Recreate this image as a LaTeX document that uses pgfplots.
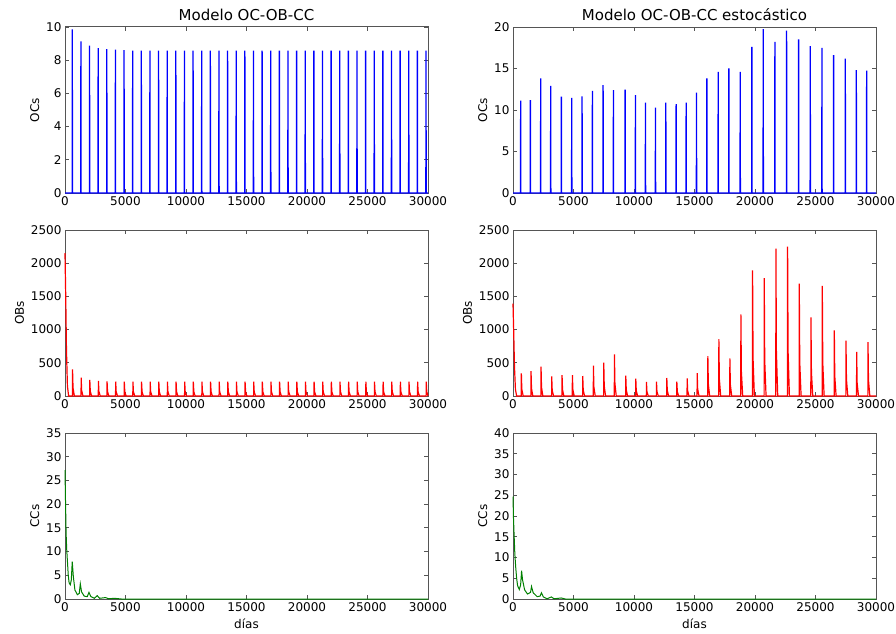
\documentclass[border=0pt]{standalone}
\usepackage{fontspec}
\setmainfont{DejaVu Sans}
\usepackage{pgfplots}
\pgfplotsset{compat=1.18}

\definecolor{frame}{HTML}{555555}
\definecolor{mblue}{rgb}{0,0,1}
\definecolor{mred}{rgb}{1,0,0}
\definecolor{mgreen}{rgb}{0,0.5,0}

\pgfplotsset{
  panel/.style={
    scale only axis, width=363pt, height=166pt,
    xmin=0, xmax=30000, xtick={0,5000,...,30000},
    scaled x ticks=false, scaled y ticks=false,
    /pgf/number format/set thousands separator={},
    /pgf/number format/assume math mode=true,
    tick label style={font=\fontsize{12}{14}\selectfont},
    label style={font=\fontsize{12}{14}\selectfont},
    title style={font=\fontsize{15}{18}\selectfont, yshift=-3pt},
    axis line style={draw=frame, line width=1pt},
    tick style={draw=frame, line width=0.8pt},
    major tick length=4pt,
    tick align=inside, tick pos=both,
    xticklabel pos=lower, yticklabel pos=left,
    clip=false,
  },
}

\begin{document}
\begin{tikzpicture}
\useasboundingbox (0,0) rectangle (896pt,633pt);

% ---------- left column: deterministic model ----------
\begin{axis}[panel, at={(65pt,440pt)}, anchor=south west,
  title={Modelo OC-OB-CC}, ylabel={OCs},
  ymin=0, ymax=10, ytick={0,2,...,10}]
\addplot[mblue, line width=1.3pt] coordinates {
(0,0)
(591,0)(603,9.86)(615,0)
(1304,0)(1316,9.14)(1328,0)
(2017,0)(2029,8.88)(2041,0)
(2730,0)(2742,8.73)(2754,0)
(3443,0)(3455,8.67)(3467,0)
(4156,0)(4168,8.63)(4180,0)
(4869,0)(4881,8.60)(4893,0)
(5582,0)(5594,8.58)(5606,0)
(6295,0)(6307,8.58)(6319,0)
(7008,0)(7020,8.58)(7032,0)
(7721,0)(7733,8.58)(7745,0)
(8434,0)(8446,8.58)(8458,0)
(9147,0)(9159,8.58)(9171,0)
(9860,0)(9872,8.58)(9884,0)
(10573,0)(10585,8.58)(10597,0)
(11286,0)(11298,8.58)(11310,0)
(11999,0)(12011,8.58)(12023,0)
(12712,0)(12724,8.58)(12736,0)
(13425,0)(13437,8.58)(13449,0)
(14138,0)(14150,8.58)(14162,0)
(14851,0)(14863,8.58)(14875,0)
(15564,0)(15576,8.58)(15588,0)
(16277,0)(16289,8.58)(16301,0)
(16990,0)(17002,8.58)(17014,0)
(17703,0)(17715,8.58)(17727,0)
(18416,0)(18428,8.58)(18440,0)
(19129,0)(19141,8.58)(19153,0)
(19842,0)(19854,8.58)(19866,0)
(20555,0)(20567,8.58)(20579,0)
(21268,0)(21280,8.58)(21292,0)
(21981,0)(21993,8.58)(22005,0)
(22694,0)(22706,8.58)(22718,0)
(23407,0)(23419,8.58)(23431,0)
(24120,0)(24132,8.58)(24144,0)
(24833,0)(24845,8.58)(24857,0)
(25546,0)(25558,8.58)(25570,0)
(26259,0)(26271,8.58)(26283,0)
(26972,0)(26984,8.58)(26996,0)
(27685,0)(27697,8.58)(27709,0)
(28398,0)(28410,8.58)(28422,0)
(29111,0)(29123,8.58)(29135,0)
(29824,0)(29836,8.58)(29848,0)
(30000,0)};
\end{axis}

\begin{axis}[panel, at={(65pt,237pt)}, anchor=south west,
  ylabel={OBs}, ymin=0, ymax=2500, ytick={0,500,...,2500}]
\addplot[mred, line width=1.2pt] coordinates {
(0,2150)(60,1500)(120,700)(200,150)(300,0)
(613,0)(623,402)(663,121)(773,0)
(1326,0)(1336,277)(1376,83)(1486,0)
(2039,0)(2049,241)(2089,72)(2199,0)
(2752,0)(2762,226)(2802,68)(2912,0)
(3465,0)(3475,221)(3515,66)(3625,0)
(4178,0)(4188,218)(4228,65)(4338,0)
(4891,0)(4901,216)(4941,65)(5051,0)
(5604,0)(5614,215)(5654,65)(5764,0)
(6317,0)(6327,215)(6367,65)(6477,0)
(7030,0)(7040,215)(7080,65)(7190,0)
(7743,0)(7753,215)(7793,65)(7903,0)
(8456,0)(8466,215)(8506,65)(8616,0)
(9169,0)(9179,215)(9219,65)(9329,0)
(9882,0)(9892,215)(9932,65)(10042,0)
(10595,0)(10605,215)(10645,65)(10755,0)
(11308,0)(11318,215)(11358,65)(11468,0)
(12021,0)(12031,215)(12071,65)(12181,0)
(12734,0)(12744,215)(12784,65)(12894,0)
(13447,0)(13457,215)(13497,65)(13607,0)
(14160,0)(14170,215)(14210,65)(14320,0)
(14873,0)(14883,215)(14923,65)(15033,0)
(15586,0)(15596,215)(15636,65)(15746,0)
(16299,0)(16309,215)(16349,65)(16459,0)
(17012,0)(17022,215)(17062,65)(17172,0)
(17725,0)(17735,215)(17775,65)(17885,0)
(18438,0)(18448,215)(18488,65)(18598,0)
(19151,0)(19161,215)(19201,65)(19311,0)
(19864,0)(19874,215)(19914,65)(20024,0)
(20577,0)(20587,215)(20627,65)(20737,0)
(21290,0)(21300,215)(21340,65)(21450,0)
(22003,0)(22013,215)(22053,65)(22163,0)
(22716,0)(22726,215)(22766,65)(22876,0)
(23429,0)(23439,215)(23479,65)(23589,0)
(24142,0)(24152,215)(24192,65)(24302,0)
(24855,0)(24865,215)(24905,65)(25015,0)
(25568,0)(25578,215)(25618,65)(25728,0)
(26281,0)(26291,215)(26331,65)(26441,0)
(26994,0)(27004,215)(27044,65)(27154,0)
(27707,0)(27717,215)(27757,65)(27867,0)
(28420,0)(28430,215)(28470,65)(28580,0)
(29133,0)(29143,215)(29183,65)(29293,0)
(29846,0)(29856,215)(29896,65)(30000,0)};
\end{axis}

\begin{axis}[panel, at={(65pt,34pt)}, anchor=south west,
  ylabel={CCs}, xlabel={días}, ymin=0, ymax=35, ytick={0,5,...,35}]
\addplot[mgreen, line width=1pt] coordinates {
(0,27.2)(40,21)(90,14)(140,10.5)(200,8)(270,5)(340,3.4)(440,3.0)(520,4.0)
(600,7.9)(690,4.7)(820,1.9)(1020,0.9)(1180,1.2)(1265,3.2)(1370,1.5)
(1590,0.6)(1840,0.5)(1980,1.4)(2140,0.5)(2420,0.15)(2665,0.7)(2860,0.15)
(3350,0.3)(3600,0.05)(4070,0.15)(4670,0)(30000,0)};
\end{axis}

% ---------- right column: stochastic model ----------
\begin{axis}[panel, at={(513pt,440pt)}, anchor=south west,
  title={Modelo OC-OB-CC estocástico}, ylabel={OCs},
  ymin=0, ymax=20, ytick={0,5,...,20}]
\addplot[mblue, line width=1.3pt] coordinates {
(0,0)
(622,0)(634,11.13)(646,0)
(1422,0)(1434,11.2)(1446,0)
(2277,0)(2289,13.8)(2301,0)
(3104,0)(3116,12.9)(3128,0)
(3986,0)(3998,11.6)(4010,0)
(4841,0)(4853,11.45)(4865,0)
(5696,0)(5708,11.65)(5720,0)
(6551,0)(6563,12.3)(6575,0)
(7433,0)(7445,13.0)(7457,0)
(8288,0)(8300,12.4)(8312,0)
(9253,0)(9265,12.45)(9277,0)
(10107,0)(10119,11.8)(10131,0)
(10935,0)(10947,10.9)(10959,0)
(11762,0)(11774,10.3)(11786,0)
(12617,0)(12629,10.9)(12641,0)
(13471,0)(13483,10.7)(13495,0)
(14299,0)(14311,10.9)(14323,0)
(15153,0)(15165,12.1)(15177,0)
(16008,0)(16020,13.8)(16032,0)
(16946,0)(16958,14.6)(16970,0)
(17828,0)(17840,15.0)(17852,0)
(18766,0)(18778,14.6)(18790,0)
(19731,0)(19743,17.6)(19755,0)
(20668,0)(20680,19.75)(20692,0)
(21633,0)(21645,18.2)(21657,0)
(22598,0)(22610,19.55)(22622,0)
(23591,0)(23603,18.5)(23615,0)
(24556,0)(24568,17.7)(24580,0)
(25521,0)(25533,17.5)(25545,0)
(26486,0)(26498,16.6)(26510,0)
(27451,0)(27463,16.2)(27475,0)
(28361,0)(28373,14.8)(28385,0)
(29216,0)(29228,14.75)(29240,0)
(30000,0)};
\end{axis}

\begin{axis}[panel, at={(513pt,237pt)}, anchor=south west,
  ylabel={OBs}, ymin=0, ymax=2500, ytick={0,500,...,2500}]
\addplot[mred, line width=1.2pt] coordinates {
(0,1390)(60,950)(120,450)(200,100)(300,0)
(679,0)(689,341)(729,102)(839,0)
(1479,0)(1489,376)(1529,113)(1639,0)
(2306,0)(2316,442)(2356,133)(2466,0)
(3189,0)(3199,296)(3239,89)(3349,0)
(4043,0)(4053,316)(4093,95)(4203,0)
(4898,0)(4908,316)(4948,95)(5058,0)
(5753,0)(5763,301)(5803,90)(5913,0)
(6635,0)(6645,457)(6685,137)(6795,0)
(7490,0)(7500,502)(7540,151)(7650,0)
(8372,0)(8382,627)(8422,188)(8532,0)
(9310,0)(9320,306)(9360,92)(9470,0)
(10137,0)(10147,261)(10187,78)(10297,0)
(11019,0)(11029,211)(11069,63)(11179,0)
(11847,0)(11857,216)(11897,65)(12007,0)
(12701,0)(12711,271)(12751,81)(12861,0)
(13529,0)(13539,216)(13579,65)(13689,0)
(14383,0)(14393,266)(14433,80)(14543,0)
(15211,0)(15221,346)(15261,104)(15371,0)
(16093,0)(16103,602)(16143,181)(16253,0)
(17003,0)(17013,858)(17053,257)(17163,0)
(17913,0)(17923,567)(17963,170)(18073,0)
(18823,0)(18833,1230)(18873,369)(18983,0)
(19788,0)(19798,1893)(19838,568)(19948,0)
(20753,0)(20763,1777)(20803,533)(20913,0)
(21718,0)(21728,2219)(21768,666)(21878,0)
(22683,0)(22693,2249)(22733,675)(22843,0)
(23648,0)(23658,1692)(23698,508)(23808,0)
(24613,0)(24623,1185)(24663,356)(24773,0)
(25551,0)(25561,1657)(25601,497)(25711,0)
(26543,0)(26553,989)(26593,297)(26703,0)
(27508,0)(27518,833)(27558,250)(27668,0)
(28391,0)(28401,663)(28441,199)(28551,0)
(29328,0)(29338,813)(29378,244)(29488,0)
(30000,0)};
\end{axis}

\begin{axis}[panel, at={(513pt,34pt)}, anchor=south west,
  ylabel={CCs}, xlabel={días}, ymin=0, ymax=40, ytick={0,5,...,40}]
\addplot[mgreen, line width=1pt] coordinates {
(0,24.7)(40,19.5)(90,15.5)(150,11)(220,7.8)(300,5)(380,3.2)(520,2.3)(630,3.4)
(710,6.8)(790,4.6)(960,2.2)(1200,1.2)(1450,1.6)(1530,3.0)(1670,1.5)
(2000,0.56)(2240,0.7)(2350,1.5)(2510,0.5)(2810,0.05)(3170,0.5)(3390,0.05)
(3990,0.25)(4320,0)(30000,0)};
\end{axis}
\end{tikzpicture}
\end{document}
